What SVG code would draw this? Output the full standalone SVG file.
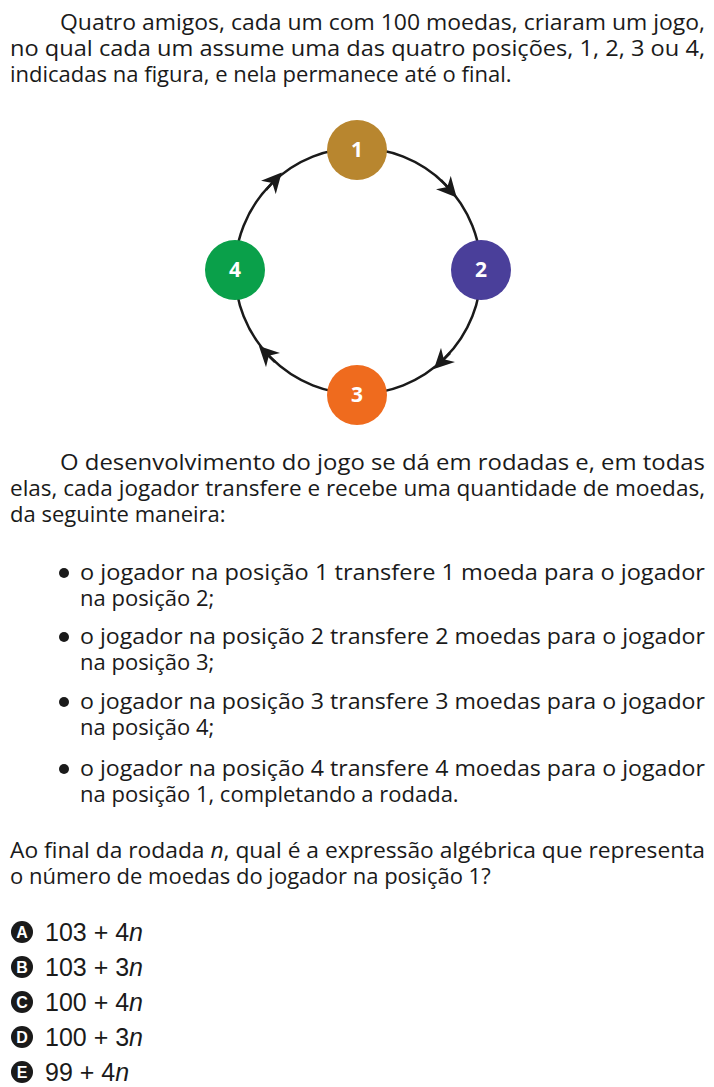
<svg xmlns="http://www.w3.org/2000/svg" width="714" height="1087" viewBox="0 0 714 1087">
<style>
.t{font-family:"Open Sans","Noto Sans",sans-serif;font-size:22px;fill:#1a1a1a}
.o{font-family:"Liberation Sans",Arial,sans-serif;font-size:25px;fill:#1a1a1a}
.n{font-family:"Open Sans",sans-serif;font-size:21px;font-weight:bold;fill:#fff;text-anchor:middle}
.b{font-family:"Liberation Sans",Arial,sans-serif;font-size:16px;font-weight:bold;fill:#fff;text-anchor:middle}
</style>
<defs>
<marker id="ah" viewBox="0 0 10 10" refX="5" refY="5" markerWidth="20" markerHeight="20" markerUnits="userSpaceOnUse" orient="auto"><path d="M0,0 L10,5 L0,10 L3,5 z" fill="#1a1a1a"/></marker>
</defs>
<rect width="714" height="1087" fill="#fff"/>
<text class="t" x="60" y="30" textLength="645" lengthAdjust="spacingAndGlyphs">Quatro amigos, cada um com 100 moedas, criaram um jogo,</text>
<text class="t" x="10" y="56" textLength="695" lengthAdjust="spacingAndGlyphs">no qual cada um assume uma das quatro posições, 1, 2, 3 ou 4,</text>
<text class="t" x="10" y="82">indicadas na figura, e nela permanece até o final.</text>
<g id="connectors" fill="none" stroke="#1a1a1a" stroke-width="2.5">
<circle cx="358" cy="271" r="123"/>
<path d="M441,180 L450,190" marker-end="url(#ah)"/>
<path d="M450,353 L441,362" marker-end="url(#ah)"/>
<path d="M275,362 L266,353" marker-end="url(#ah)"/>
<path d="M266,190 L275,180" marker-end="url(#ah)"/>
</g>
<g id="n1"><circle cx="357" cy="150" r="30" fill="#b8862f"/><text class="n" x="357" y="157">1</text></g>
<g id="n2"><circle cx="481" cy="270" r="30" fill="#4a3f9a"/><text class="n" x="481" y="277">2</text></g>
<g id="n3"><circle cx="357" cy="395" r="30" fill="#ef6b1e"/><text class="n" x="357" y="402">3</text></g>
<g id="n4"><circle cx="235" cy="270" r="30" fill="#0aa04a"/><text class="n" x="235" y="277">4</text></g>
<text class="t" x="60" y="470" textLength="645" lengthAdjust="spacingAndGlyphs">O desenvolvimento do jogo se dá em rodadas e, em todas</text>
<text class="t" x="10" y="496" textLength="695" lengthAdjust="spacingAndGlyphs">elas, cada jogador transfere e recebe uma quantidade de moedas,</text>
<text class="t" x="10" y="522">da seguinte maneira:</text>
<g fill="#1a1a1a"><circle cx="64" cy="573" r="5"/><circle cx="64" cy="637" r="5"/><circle cx="64" cy="702" r="5"/><circle cx="64" cy="769" r="5"/></g>
<text class="t" x="80" y="580" textLength="625" lengthAdjust="spacingAndGlyphs">o jogador na posição 1 transfere 1 moeda para o jogador</text>
<text class="t" x="80" y="606">na posição 2;</text>
<text class="t" x="80" y="644" textLength="625" lengthAdjust="spacingAndGlyphs">o jogador na posição 2 transfere 2 moedas para o jogador</text>
<text class="t" x="80" y="670">na posição 3;</text>
<text class="t" x="80" y="709" textLength="625" lengthAdjust="spacingAndGlyphs">o jogador na posição 3 transfere 3 moedas para o jogador</text>
<text class="t" x="80" y="735">na posição 4;</text>
<text class="t" x="80" y="776" textLength="625" lengthAdjust="spacingAndGlyphs">o jogador na posição 4 transfere 4 moedas para o jogador</text>
<text class="t" x="80" y="802">na posição 1, completando a rodada.</text>
<text class="t" x="10" y="858" textLength="695" lengthAdjust="spacingAndGlyphs">Ao final da rodada <tspan font-style="italic">n</tspan>, qual é a expressão algébrica que representa</text>
<text class="t" x="10" y="884">o número de moedas do jogador na posição 1?</text>
<g><circle cx="22" cy="932" r="11" fill="#1a1a1a"/><text class="b" x="22" y="938">A</text><text class="o" x="45" y="941">103 + 4<tspan font-style="italic">n</tspan></text></g>
<g><circle cx="22" cy="967" r="11" fill="#1a1a1a"/><text class="b" x="22" y="973">B</text><text class="o" x="45" y="976">103 + 3<tspan font-style="italic">n</tspan></text></g>
<g><circle cx="22" cy="1002" r="11" fill="#1a1a1a"/><text class="b" x="22" y="1008">C</text><text class="o" x="45" y="1011">100 + 4<tspan font-style="italic">n</tspan></text></g>
<g><circle cx="22" cy="1037" r="11" fill="#1a1a1a"/><text class="b" x="22" y="1043">D</text><text class="o" x="45" y="1046">100 + 3<tspan font-style="italic">n</tspan></text></g>
<g><circle cx="22" cy="1072" r="11" fill="#1a1a1a"/><text class="b" x="22" y="1078">E</text><text class="o" x="45" y="1081">99 + 4<tspan font-style="italic">n</tspan></text></g>
</svg>
